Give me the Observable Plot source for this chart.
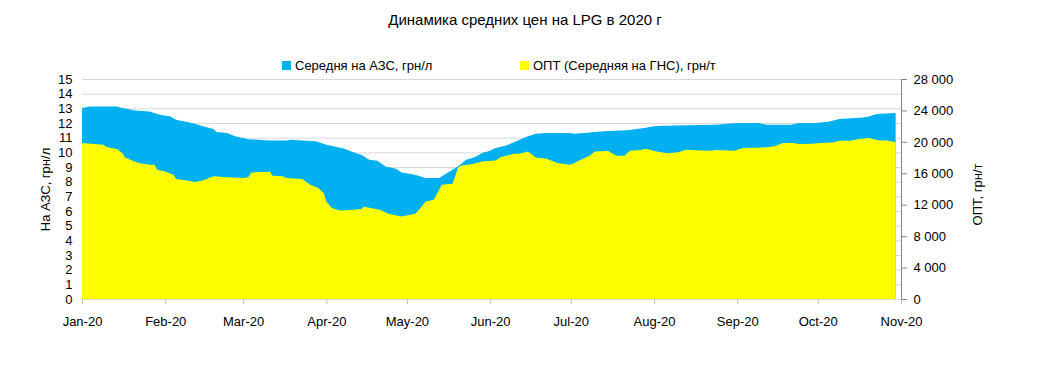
<!DOCTYPE html>
<html>
<head>
<meta charset="utf-8">
<script src="https://cdn.jsdelivr.net/npm/d3@7"></script>
<script src="https://cdn.jsdelivr.net/npm/@observablehq/plot@0.6"></script>
<style>
  body { margin: 0; background: #fff; font-family: "Liberation Sans", Arial, sans-serif; color: #000; }
  #wrap { position: relative; width: 1038px; height: 370px; overflow: hidden; background: #fff; }
  #title { position: absolute; top: 11px; left: 0; width: 1050px; text-align: center; font-size: 15px; line-height: 18px; z-index: 2; }
  .leg { position: absolute; top: 58px; font-size: 13px; line-height: 16px; white-space: nowrap; z-index: 2; }
  .sw { display: inline-block; width: 9px; height: 9px; margin-right: 4px; }
  #chart { position: absolute; top: 70px; left: 0; z-index: 1; }
</style>
</head>
<body>
<div id="wrap">
  <div id="title"></div>
  <div class="leg" id="leg1" style="left:282px"><span class="sw" style="background:#00b0f0"></span><span class="t"></span></div>
  <div class="leg" id="leg2" style="left:520px"><span class="sw" style="background:#ffff00"></span><span class="t"></span></div>
  <div id="chart"></div>
</div>
<script>
// Series 1: average retail price at filling stations (АЗС), UAH per litre (left axis)
const azsDates = ["2020-01-01","2020-01-04","2020-01-14","2020-01-16","2020-01-21","2020-01-26","2020-01-30","2020-02-03","2020-02-05","2020-02-11","2020-02-15","2020-02-19","2020-02-20","2020-02-24","2020-02-27","2020-03-03","2020-03-11","2020-03-17","2020-03-19","2020-03-23","2020-03-28","2020-04-01","2020-04-05","2020-04-08","2020-04-11","2020-04-14","2020-04-17","2020-04-20","2020-04-23","2020-04-27","2020-04-29","2020-05-04","2020-05-08","2020-05-13","2020-05-16","2020-05-20","2020-05-23","2020-05-26","2020-05-29","2020-06-01","2020-06-03","2020-06-07","2020-06-10","2020-06-15","2020-06-18","2020-06-22","2020-07-01","2020-07-02","2020-07-06","2020-07-10","2020-07-15","2020-07-22","2020-07-29","2020-08-01","2020-08-04","2020-08-24","2020-09-01","2020-09-09","2020-09-12","2020-09-21","2020-09-24","2020-09-30","2020-10-05","2020-10-09","2020-10-18","2020-10-20","2020-10-23","2020-10-30"];
const azsValues = [13.02,13.13,13.13,13.02,12.86,12.79,12.56,12.45,12.22,12.0,11.77,11.59,11.38,11.32,11.09,10.9,10.81,10.81,10.86,10.81,10.75,10.52,10.36,10.22,10.0,9.84,9.5,9.43,9.04,8.88,8.63,8.47,8.25,8.25,8.59,9.04,9.5,9.65,9.95,10.11,10.29,10.47,10.7,11.09,11.27,11.32,11.32,11.27,11.32,11.38,11.45,11.5,11.68,11.77,11.81,11.88,12.0,12.0,11.88,11.88,12.0,12.0,12.09,12.27,12.38,12.45,12.61,12.68];

// Series 2: wholesale (average at gas filling stations ГНС), UAH per tonne (right axis)
const optDates = ["2020-01-01","2020-01-09","2020-01-10","2020-01-14","2020-01-16","2020-01-17","2020-01-22","2020-01-26","2020-01-28","2020-01-29","2020-02-01","2020-02-04","2020-02-05","2020-02-09","2020-02-12","2020-02-15","2020-02-19","2020-02-24","2020-03-01","2020-03-03","2020-03-04","2020-03-11","2020-03-12","2020-03-16","2020-03-17","2020-03-23","2020-03-26","2020-03-29","2020-03-31","2020-04-01","2020-04-03","2020-04-06","2020-04-11","2020-04-14","2020-04-15","2020-04-21","2020-04-24","2020-04-29","2020-05-04","2020-05-05","2020-05-08","2020-05-11","2020-05-14","2020-05-18","2020-05-20","2020-05-21","2020-05-26","2020-05-29","2020-06-03","2020-06-05","2020-06-07","2020-06-10","2020-06-12","2020-06-15","2020-06-18","2020-06-22","2020-06-26","2020-07-01","2020-07-04","2020-07-08","2020-07-10","2020-07-15","2020-07-18","2020-07-21","2020-07-23","2020-07-27","2020-07-29","2020-08-02","2020-08-06","2020-08-10","2020-08-13","2020-08-19","2020-08-22","2020-08-24","2020-08-31","2020-09-03","2020-09-12","2020-09-15","2020-09-18","2020-09-22","2020-09-24","2020-09-29","2020-10-02","2020-10-07","2020-10-09","2020-10-13","2020-10-17","2020-10-20","2020-10-24","2020-10-27","2020-10-30"];
const optValues = [19840,19640,19340,19080,18570,18010,17300,17080,17080,16450,16240,15810,15270,15080,14880,15080,15610,15510,15400,15510,16110,16180,15680,15610,15400,15270,14540,14130,13500,12410,11570,11270,11370,11440,11750,11370,10850,10510,10850,11140,12410,12640,14540,14670,16670,16970,17210,17510,17640,18070,18240,18480,18480,18780,18010,17850,17300,17080,17600,18240,18780,18830,18240,18240,18870,18950,19130,18780,18540,18670,19000,18910,18870,18950,18870,19210,19300,19430,19840,19840,19730,19770,19840,19940,20140,20140,20400,20500,20180,20180,19940];

const leftTicks = [0,1,2,3,4,5,6,7,8,9,10,11,12,13,14,15];
const rightTicks = [0,4000,8000,12000,16000,20000,24000,28000];
const monthTicks = ["2020-01-01","2020-02-01","2020-03-01","2020-04-01","2020-05-01","2020-06-01","2020-07-01","2020-08-01","2020-09-01","2020-10-01","2020-11-01"];
const seriesNames = ["Середня на АЗС, грн/л", "ОПТ (Середняя на ГНС), грн/т"];
const axisTitles = ["На АЗС, грн/л", "ОПТ, грн/т"];
const chartTitle = "Динамика средних цен на LPG в 2020 г";

document.getElementById("title").textContent = chartTitle;
document.querySelector("#leg1 .t").textContent = seriesNames[0];
document.querySelector("#leg2 .t").textContent = seriesNames[1];

const parse = s => new Date(s + "T00:00:00Z");
const k = 28000 / 15; // right-axis units per left-axis unit
const azs = azsDates.map((d, i) => ({date: parse(d), v: azsValues[i]}));
const opt = optDates.map((d, i) => ({date: parse(d), v: optValues[i]}));
const xTicks = monthTicks.map(parse);
const fmtX = d3.utcFormat("%b-%y");
const fmtR = v => d3.format(",")(v).replace(/,/g, " ");

const chart = Plot.plot({
  width: 1038,
  height: 300,
  marginTop: 9,
  marginBottom: 71,
  marginLeft: 82,
  marginRight: 137,
  style: {fontFamily: "'Liberation Sans', Arial, sans-serif", fontSize: "13px", color: "#000", background: "transparent", overflow: "visible"},
  x: {type: "utc", domain: [xTicks[0], xTicks[xTicks.length - 1]]},
  y: {domain: [0, 15]},
  marks: [
    Plot.gridY(leftTicks.slice(1), {stroke: "#d9d9d9", strokeOpacity: 1}),
    Plot.areaY(azs, {x: "date", y: "v", fill: "#00b0f0", curve: "linear"}),
    Plot.areaY(opt, {x: "date", y: d => d.v / k, fill: "#ffff00", curve: "linear"}),
    Plot.ruleY([0], {stroke: "#d9d9d9"}),
    Plot.ruleX([xTicks[xTicks.length - 1]], {stroke: "#868686"}),
    Plot.axisY(leftTicks, {anchor: "left", tickSize: 0, tickPadding: 10, label: null, fill: "#000"}),
    Plot.axisY(rightTicks.map(t => t / k), {anchor: "right", tickSize: 5, tickPadding: 7, stroke: "#868686", fill: "#000", label: null, tickFormat: d => fmtR(Math.round(d * k))}),
    Plot.axisX(xTicks, {anchor: "bottom", tickSize: 5, tickPadding: 12, stroke: "#bfbfbf", fill: "#000", label: null, tickFormat: fmtX}),
    Plot.text([axisTitles[0]], {frameAnchor: "left", textAnchor: "middle", dx: -37, rotate: -90, fill: "#000"}),
    Plot.text([axisTitles[1]], {frameAnchor: "right", textAnchor: "middle", dx: 76, dy: 5, rotate: -90, fill: "#000"})
  ]
});
document.getElementById("chart").appendChild(chart);
</script>
</body>
</html>
